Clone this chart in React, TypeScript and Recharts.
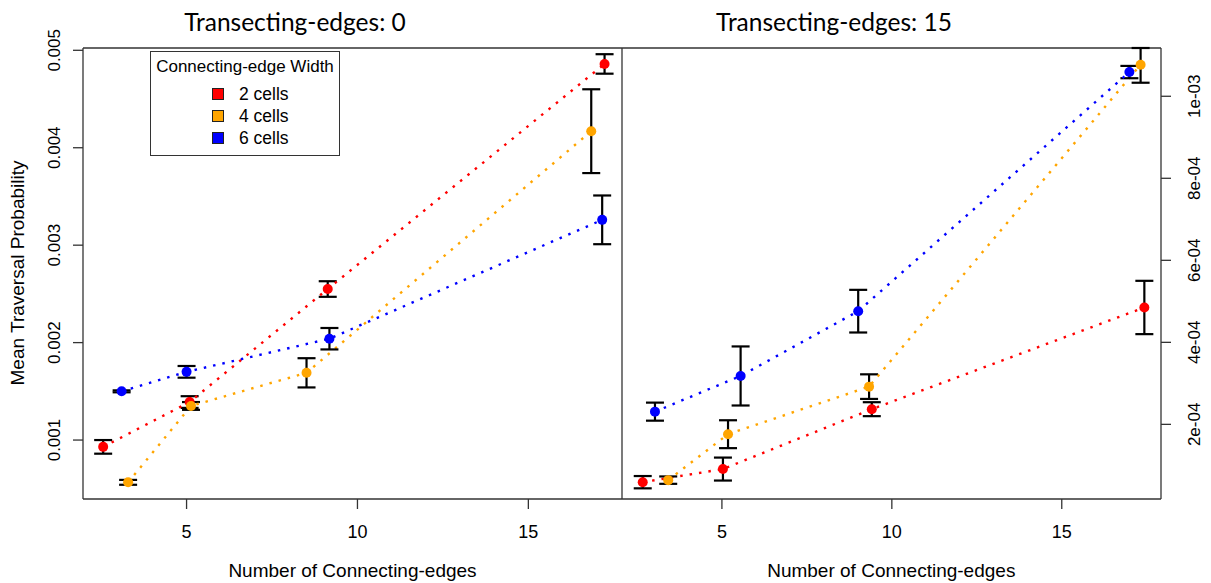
import React from 'react';
import { LineChart, Line, XAxis, YAxis, ErrorBar, Legend, ReferenceLine } from 'recharts';

const FONT = '"Liberation Sans", Arial, sans-serif';
const TITLE_FONT = 'Lato, "Open Sans", sans-serif';

const seriesNames = ['2 cells', '4 cells', '6 cells'];
const seriesColors = ['#ff0000', '#ffa500', '#0000ff'];
const panelTitles = ['Transecting-edges: 0', 'Transecting-edges: 15'];

const xTicks = [5, 10, 15];
const leftYTicks = [0.001, 0.002, 0.003, 0.004, 0.005];
const leftYLabels = ['0.001', '0.002', '0.003', '0.004', '0.005'];
const rightYTicks = [0.0002, 0.0004, 0.0006, 0.0008, 0.001];
const rightYLabels = ['2e-04', '4e-04', '6e-04', '8e-04', '1e-03'];

// Transecting-edges: 0
const t0X2 = [2.56, 5.09, 9.13, 17.23];
const t0Y2 = [0.00093, 0.00139, 0.00255, 0.00486];
const t0E2 = [0.00007, 0.00006, 0.00008, 0.0001];
const t0X4 = [3.29, 5.13, 8.51, 16.84];
const t0Y4 = [0.000566, 0.00135, 0.00169, 0.00417];
const t0E4 = [0.000025, 0.00004, 0.00015, 0.00043];
const t0X6 = [3.1, 5.0, 9.18, 17.16];
const t0Y6 = [0.0015, 0.0017, 0.00204, 0.00326];
const t0E6 = [0.00001, 0.00006, 0.00011, 0.00025];

// Transecting-edges: 15 (last 4-cell bar runs past the top of the frame)
const t15X2 = [2.67, 5.03, 9.41, 17.43];
const t15Y2 = [0.000059, 0.000091, 0.000237, 0.000485];
const t15E2 = [0.000015, 0.000028, 0.000017, 0.000065];
const t15X4 = [3.42, 5.18, 9.33, 17.32];
const t15Y4 = [0.000064, 0.000176, 0.000292, 0.001077];
const t15E4: (number | [number, number])[] = [0.000009, 0.000034, 0.00003, [0.000044, 0.0000407]];
const t15X6 = [3.03, 5.55, 9.01, 16.99];
const t15Y6 = [0.000231, 0.000318, 0.000476, 0.001059];
const t15E6 = [0.000022, 0.000072, 0.000052, 0.000015];

const rows = (xs: number[], ys: number[], es: (number | [number, number])[]) =>
  xs.map((x, i) => ({ x, y: ys[i], e: es[i] }));

const leftSeries = [rows(t0X2, t0Y2, t0E2), rows(t0X4, t0Y4, t0E4), rows(t0X6, t0Y6, t0E6)];
const rightSeries = [rows(t15X2, t15Y2, t15E2), rows(t15X4, t15Y4, t15E4), rows(t15X6, t15Y6, t15E6)];

const AXIS = '#333';

const XTick = (p: any) => (
  <text x={p.x} y={p.y + 21} dy="0.35em" textAnchor="middle" fontSize={18} fontFamily={FONT} fill="#000">
    {p.payload.value}
  </text>
);

const makeYTick = (ticks: number[], labels: string[], shift: number) => (p: any) => (
  <text
    x={0}
    y={0}
    dy="0.36em"
    transform={`translate(${p.x + shift},${p.y}) rotate(-90)`}
    textAnchor="middle"
    fontSize={17}
    fontFamily={FONT}
    fill="#000"
  >
    {labels[ticks.indexOf(p.payload.value)]}
  </text>
);

const LegendBox = (props: any) => (
  <div
    style={{
      position: 'relative',
      width: 190,
      height: 105,
      border: '1px solid #333',
      boxSizing: 'border-box',
      background: '#fff',
      fontFamily: FONT,
      color: '#000',
    }}
  >
    <div style={{ position: 'absolute', left: 0, right: 0, top: 5, textAlign: 'center', fontSize: 17, lineHeight: '20px' }}>
      Connecting-edge Width
    </div>
    {(props.payload || []).map((entry: any, i: number) => (
      <div key={entry.value} style={{ position: 'absolute', left: 0, top: 31 + i * 22, height: 22, width: '100%' }}>
        <div
          style={{
            position: 'absolute',
            left: 61,
            top: 5,
            width: 12,
            height: 12,
            boxSizing: 'border-box',
            background: entry.color,
            border: '1px solid #222',
          }}
        />
        <div style={{ position: 'absolute', left: 88, top: 1, fontSize: 17.5, lineHeight: '20px' }}>{entry.value}</div>
      </div>
    ))}
  </div>
);

function Panel(props: {
  isLeft: boolean;
  series: { x: number; y: number; e: number | [number, number] }[][];
  xDomain: [number, number];
  yDomain: [number, number];
  yTicks: number[];
  yLabels: string[];
}) {
  const { isLeft, series, xDomain, yDomain, yTicks, yLabels } = props;
  return (
    <div style={{ position: 'absolute', left: isLeft ? 0 : 560, top: 0 }}>
      <LineChart
        width={isLeft ? 640 : 651}
        height={583}
        margin={isLeft ? { top: 48, right: 18, bottom: 44, left: 0 } : { top: 48, right: 0, bottom: 44, left: 62 }}
      >
        <XAxis
          dataKey="x"
          type="number"
          domain={xDomain}
          ticks={xTicks}
          allowDataOverflow
          height={40}
          tickSize={10}
          tick={XTick}
          axisLine={{ stroke: AXIS, strokeWidth: 1.3 }}
          tickLine={{ stroke: AXIS, strokeWidth: 1.3 }}
        />
        <YAxis
          orientation={isLeft ? 'left' : 'right'}
          type="number"
          domain={yDomain}
          ticks={yTicks}
          allowDataOverflow
          width={isLeft ? 83 : 50}
          tickSize={10}
          tick={makeYTick(yTicks, yLabels, isLeft ? -17 : 21)}
          axisLine={{ stroke: AXIS, strokeWidth: 1.3 }}
          tickLine={{ stroke: AXIS, strokeWidth: 1.3 }}
        />
        <ReferenceLine y={yDomain[1]} stroke={AXIS} strokeWidth={1.3} />
        {isLeft && <ReferenceLine x={xDomain[1]} stroke={AXIS} strokeWidth={1.3} />}
        {series.map((data, i) => (
          <Line
            key={seriesNames[i]}
            name={seriesNames[i]}
            data={data}
            dataKey="y"
            type="linear"
            stroke={seriesColors[i]}
            strokeWidth={2.4}
            strokeDasharray="2.5 7"
            dot={{ r: 5, fill: seriesColors[i], stroke: 'none' }}
            activeDot={false}
            isAnimationActive={false}
          >
            <ErrorBar dataKey="e" width={9} stroke="#000" strokeWidth={2.2} direction="y" isAnimationActive={false} />
          </Line>
        ))}
        {isLeft && (
          <Legend
            layout="vertical"
            align="center"
            verticalAlign="middle"
            content={LegendBox}
            wrapperStyle={{ left: 150, top: 51, width: 190, height: 105 }}
          />
        )}
      </LineChart>
    </div>
  );
}

export default function App() {
  return (
    <div style={{ position: 'absolute', left: 0, top: 0, width: 1211, height: 583, background: '#fff' }}>
      <Panel
        isLeft
        series={leftSeries}
        xDomain={[1.97, 17.74]}
        yDomain={[0.000395, 0.0050236]}
        yTicks={leftYTicks}
        yLabels={leftYLabels}
      />
      <Panel
        isLeft={false}
        series={rightSeries}
        xDomain={[2.06, 17.92]}
        yDomain={[0.000018, 0.0011177]}
        yTicks={rightYTicks}
        yLabels={rightYLabels}
      />
      <svg width={1211} height={583} style={{ position: 'absolute', left: 0, top: 0, pointerEvents: 'none' }}>
        <text x={295} y={22} dy="0.35em" textAnchor="middle" fontSize={24.5} fontFamily={TITLE_FONT} fill="#000">
          {panelTitles[0]}
        </text>
        <text x={834} y={22} dy="0.35em" textAnchor="middle" fontSize={24.5} fontFamily={TITLE_FONT} fill="#000">
          {panelTitles[1]}
        </text>
        <text
          x={0}
          y={0}
          dy="0.36em"
          transform="translate(17,273) rotate(-90)"
          textAnchor="middle"
          fontSize={19}
          fontFamily={FONT}
          fill="#000"
        >
          Mean Traversal Probability
        </text>
        <text x={352.5} y={570} dy="0.35em" textAnchor="middle" fontSize={19} fontFamily={FONT} fill="#000">
          Number of Connecting-edges
        </text>
        <text x={891.3} y={570} dy="0.35em" textAnchor="middle" fontSize={19} fontFamily={FONT} fill="#000">
          Number of Connecting-edges
        </text>
      </svg>
    </div>
  );
}
